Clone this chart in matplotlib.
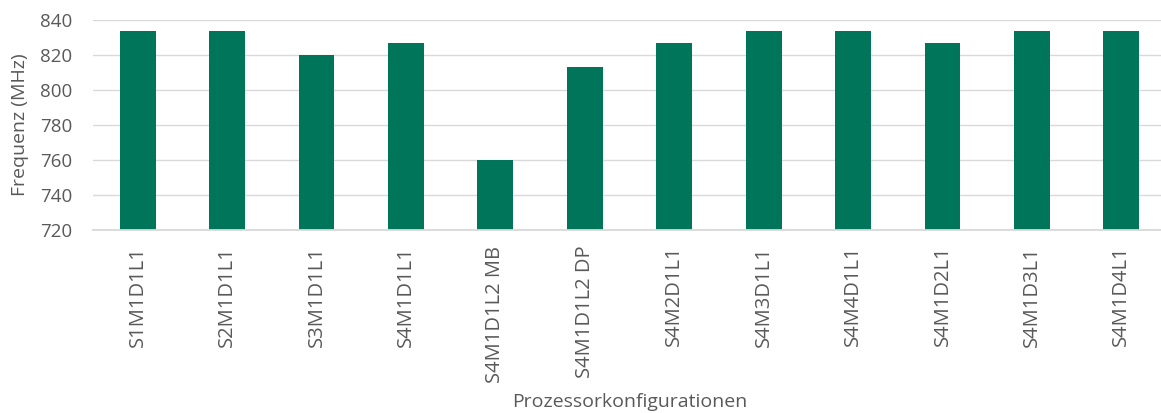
import matplotlib
matplotlib.use("Agg")
import matplotlib.pyplot as plt

categories = ["S1M1D1L1", "S2M1D1L1", "S3M1D1L1", "S4M1D1L1", "S4M1D1L2 MB",
              "S4M1D1L2 DP", "S4M2D1L1", "S4M3D1L1", "S4M4D1L1", "S4M1D2L1",
              "S4M1D3L1", "S4M1D4L1"]
freq_mhz = [833.3, 833.3, 819.7, 826.4, 760.0, 813.0, 826.4, 833.3, 833.3,
            826.4, 833.3, 833.3]
yticks = [720, 740, 760, 780, 800, 820, 840]

plt.rcParams['font.family'] = ['Open Sans', 'DejaVu Sans']
text_col = '#595959'
grid_col = '#d9d9d9'

W, H = 1161, 414
fig = plt.figure(figsize=(W / 100, H / 100), dpi=100)
left, right, top, bottom = 93, 1166, 20.5, 230.5
ax = fig.add_axes([left / W, 1 - bottom / H, (right - left) / W, (bottom - top) / H])

x = range(len(categories))
ax.bar(x, freq_mhz, width=0.4, color='#00755A', zorder=3)
ax.set_xlim(-0.5, len(categories) - 0.5)
ax.set_ylim(720, 840)
ax.set_yticks(yticks)
ax.set_xticks(list(x))
ax.set_xticklabels(categories, rotation=90, va='top', ha='center')

ax.yaxis.grid(True, color=grid_col, linewidth=1.0, zorder=0)
for s in ['top', 'right', 'left']:
    ax.spines[s].set_visible(False)
ax.spines['bottom'].set_color(grid_col)
ax.spines['bottom'].set_linewidth(1.3)
ax.spines['bottom'].set_zorder(4)

ax.tick_params(axis='x', length=0, colors=text_col, labelsize=14.5, pad=11)
ax.tick_params(axis='y', length=0, colors=text_col, labelsize=13.5, pad=15)

fig.text(630 / W, 1 - 402 / H, 'Prozessorkonfigurationen', ha='center', va='center',
         color=text_col, fontsize=14)
fig.text(20 / W, 1 - 125 / H, 'Frequenz (MHz)', ha='center', va='center',
         rotation=90, color=text_col, fontsize=14)

fig.savefig('out.png', dpi=100)
